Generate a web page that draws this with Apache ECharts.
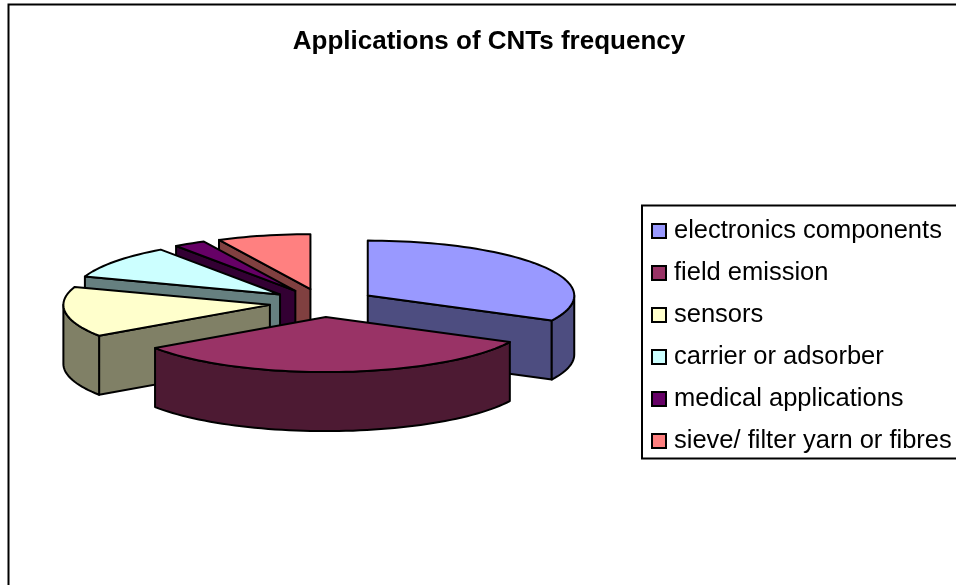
<!DOCTYPE html>
<html>
<head>
<meta charset="utf-8">
<style>html,body{margin:0;padding:0;background:#fff;overflow:hidden}#chart{width:956px;height:585px}</style>
<script src="https://cdn.jsdelivr.net/npm/echarts@6/dist/echarts.min.js"></script>
</head>
<body>
<div id="chart"></div>
<script>
const categories = ['electronics components','field emission','sensors','carrier or adsorber','medical applications','sieve/ filter yarn or fibres'];
const values = [32.5, 33, 14.8, 9.9, 2.5, 7.3];
const colors = ['#9999FF','#993366','#FFFFCC','#CCFFFF','#660066','#FF8080'];
const wallColors = ['#4D4D80','#4D1A33','#808066','#668080','#330033','#804040'];

const pie = {cx:322.5, cy:303, rx:206.5, ry:55, depth:59, explode:0.257};
const total = values.reduce((a,b)=>a+b,0);
const D = Math.PI/180;
let acc = 0;
const spans = values.map(v=>{const s=acc/total*360; acc+=v; return [s,acc/total*360];});
const mids = spans.map(s=>(s[0]+s[1])/2);
// paint back to front
const rank = mids.map((m,i)=>({i,k:-Math.cos(m*D)})).sort((a,b)=>a.k-b.k).map(o=>o.i);

function renderSlice(i){
  return function(){
    const [a0,a1]=spans[i], m=mids[i]*D;
    const ox=pie.cx+pie.rx*pie.explode*Math.sin(m), oy=pie.cy-pie.ry*pie.explode*Math.cos(m);
    const P=(deg,dz)=>[ox+pie.rx*Math.sin(deg*D), oy-pie.ry*Math.cos(deg*D)+(dz||0)];
    const arc=(from,to,dz)=>{const n=Math.max(1,Math.ceil((to-from)/2)),o=[];for(let k=0;k<=n;k++)o.push(P(from+(to-from)*k/n,dz));return o;};
    const A=[ox,oy], Ad=[ox,oy+pie.depth];
    const style=(fill)=>({fill,stroke:'#000',lineWidth:2,lineJoin:'round'});
    const poly=(points,fill)=>({type:'polygon',shape:{points},style:style(fill),silent:true});
    const ch=[];
    if(Math.sin(a0*D)<-1e-6) ch.push(poly([A,P(a0),P(a0,pie.depth),Ad],wallColors[i]));
    if(Math.sin(a1*D)>1e-6) ch.push(poly([A,P(a1),P(a1,pie.depth),Ad],wallColors[i]));
    const r0=Math.max(a0,90), r1=Math.min(a1,270);
    if(r1>r0) ch.push(poly(arc(r0,r1,0).concat(arc(r0,r1,pie.depth).reverse()),wallColors[i]));
    ch.push(poly([A].concat(arc(a0,a1,0)),colors[i]));
    return {type:'group',children:ch};
  };
}

const chart = echarts.init(document.getElementById('chart'),null,{renderer:'canvas'});
chart.setOption({
  animation:false,
  backgroundColor:'#fff',
  title:{text:'Applications of CNTs frequency',left:484,top:24,textAlign:'center',
    textStyle:{fontFamily:'Liberation Sans',fontWeight:'bold',fontSize:26,color:'#000'}},
  legend:{orient:'vertical',left:642,top:205.5,data:categories,icon:'rect',itemWidth:14,itemHeight:14,itemGap:13,
    padding:[11,30,3,9],borderColor:'#000',borderWidth:2,backgroundColor:'#fff',selectedMode:false,
    textStyle:{fontFamily:'Liberation Sans',fontSize:25.5,color:'#000',padding:[2,0,0,3],lineHeight:27},
    itemStyle:{borderColor:'#000',borderWidth:2}},
  graphic:[{type:'rect',shape:{x:8.5,y:4.5,width:1200,height:1200},style:{fill:'none',stroke:'#000',lineWidth:2},silent:true,z:-10}],
  series:categories.map((name,i)=>({
    type:'custom',name,coordinateSystem:'none',z:2+rank.indexOf(i),
    data:[values[i]],renderItem:renderSlice(i),itemStyle:{color:colors[i]},silent:true
  }))
});
</script>
</body>
</html>
